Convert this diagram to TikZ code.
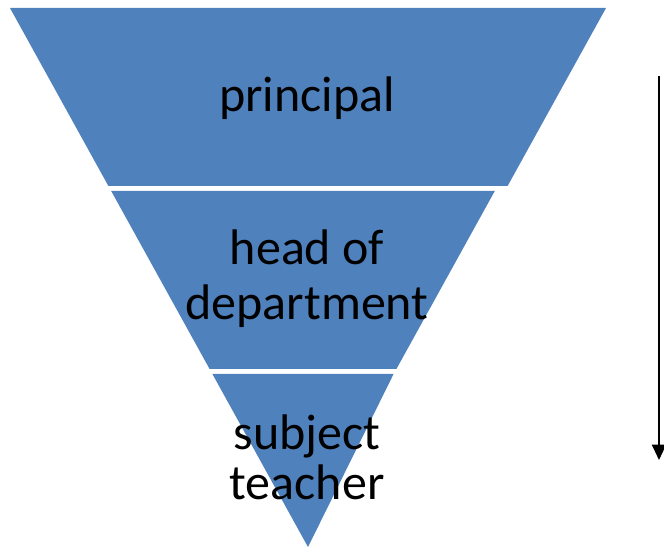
\documentclass[tikz,border=0pt]{standalone}
\usepackage{fontspec}
\setmainfont{Carlito}
\usetikzlibrary{arrows.meta}
\definecolor{bandblue}{HTML}{4F81BD}
\tikzset{
  band/.style={fill=bandblue, draw=none},
  bandtext/.style={font=\fontsize{37.5}{41.25}\selectfont, text=black, align=center, inner sep=0pt, anchor=base},
  flowarrow/.style={-{Triangle[width=10.5pt,length=11.5pt]}, line width=1.5pt, black}
}
\begin{document}
\begin{tikzpicture}[x=0.75pt,y=-0.75pt]
\useasboundingbox (0,0) rectangle (664,548);
% bands
\fill[band] (10,8) -- (606,8) -- (507.6,186) -- (108.4,186) -- cycle;
\fill[band] (111.2,191) -- (494.8,191) -- (396.4,369) -- (209.6,369) -- cycle;
\fill[band] (212.4,374) -- (393.6,374) -- (308,547) -- cycle;
% texts
\node[bandtext] (principal) at (307,112) {principal};
\node[bandtext] (head) at (307,320) {head of\\department};
\node[bandtext, font=\fontsize{37.5}{37.5}\selectfont] (subject) at (307,500) {subject\\teacher};
% arrow
\coordinate (arrtop) at (659,76);
\coordinate (arrbot) at (659,460);
\draw[flowarrow] (arrtop) -- (arrbot);
\end{tikzpicture}
\end{document}
